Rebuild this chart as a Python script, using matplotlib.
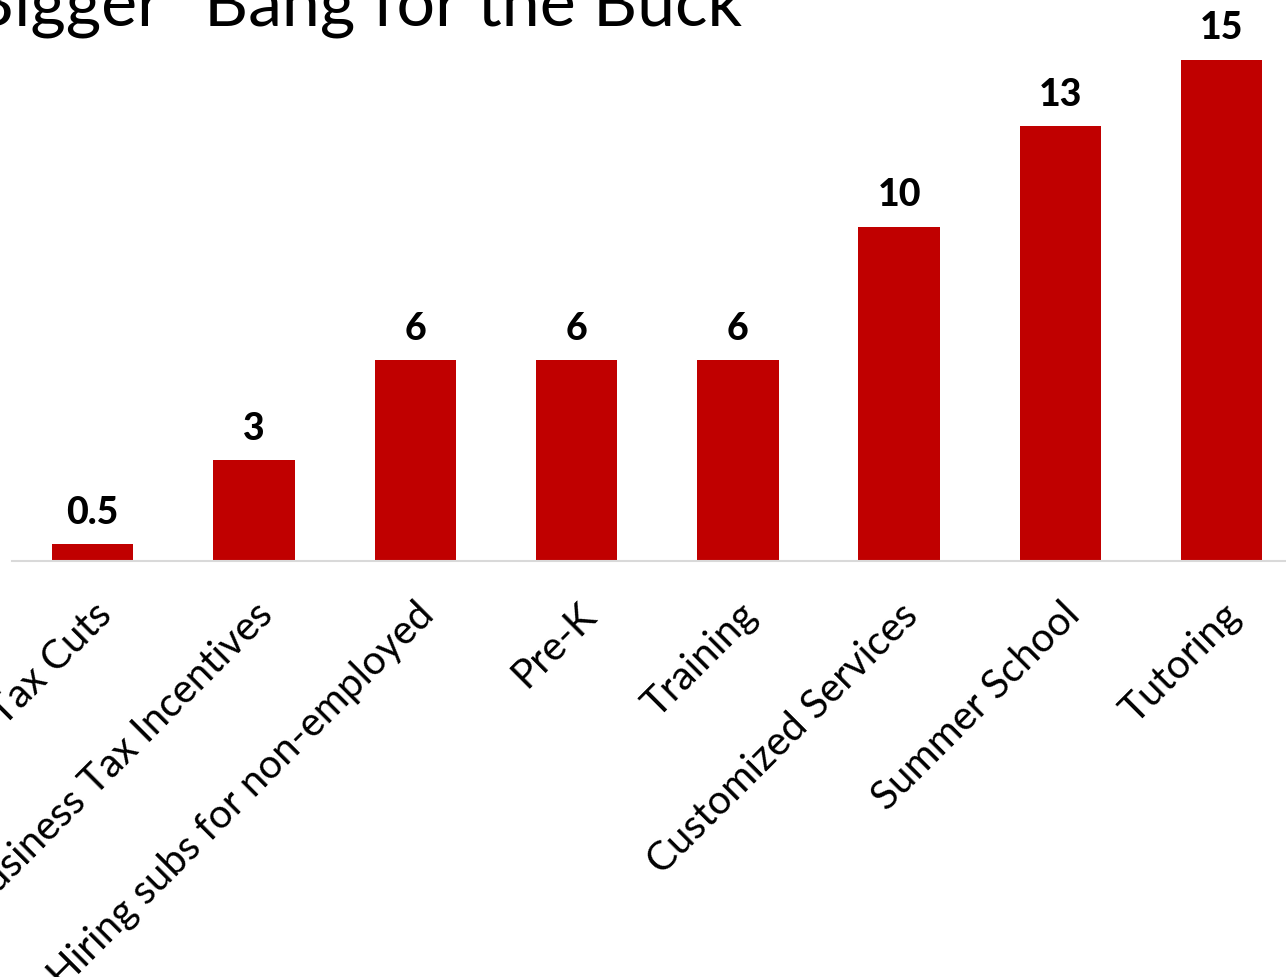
import matplotlib
matplotlib.use("Agg")
import matplotlib.pyplot as plt

categories = ["Tax Cuts", "Business Tax Incentives", "Hiring subs for non-employed",
              "Pre-K", "Training", "Customized Services", "Summer School", "Tutoring"]
values = [0.5, 3, 6, 6, 6, 10, 13, 15]
value_labels = ["0.5", "3", "6", "6", "6", "10", "13", "15"]
title = "Bigger \u201cBang for the Buck\u201d"

W, H = 1286, 978
fig = plt.figure(figsize=(W / 100, H / 100), dpi=100)
fam = ["Lato", "DejaVu Sans"]

# axes in pixel coordinates
left_px, base_px = 12, 561.5
step = 161.3
ylim_top = 16
px_per_unit = 33.4
ax = fig.add_axes([left_px / W, (H - base_px) / H, 8 * step / W, ylim_top * px_per_unit / H])
x = list(range(len(categories)))
ax.bar(x, values, width=0.505, color="#C00000", zorder=2)
ax.set_xlim(-0.5, 7.5)
ax.set_ylim(0, ylim_top)
for s in ["top", "right", "left"]:
    ax.spines[s].set_visible(False)
ax.spines["bottom"].set_color("#D9D9D9")
ax.spines["bottom"].set_linewidth(1.5)
ax.set_yticks([])
ax.set_xticks(x)
ax.set_xticklabels(categories, rotation=45, ha="right", rotation_mode="anchor",
                   fontsize=29, family=fam, color="black")
ax.tick_params(axis="x", length=0, pad=25)
for xi, v, lab in zip(x, values, value_labels):
    ax.annotate(lab, (xi, v), xytext=(0, 11), textcoords="offset points",
                ha="center", va="bottom", fontsize=27, fontweight="black", family=fam)

fig.text(767 / W, 1 - 25 / H, title, ha="right", va="baseline", fontsize=49, family=fam)
fig.savefig("out.png", dpi=100)
